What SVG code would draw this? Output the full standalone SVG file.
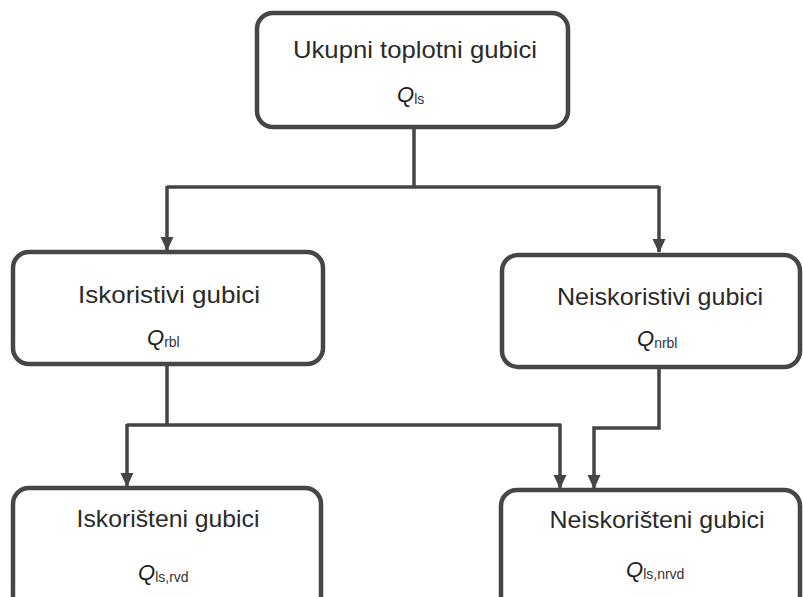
<svg xmlns="http://www.w3.org/2000/svg" width="803" height="597" viewBox="0 0 803 597">
<defs>
<marker id="arr" markerWidth="14" markerHeight="15" viewBox="0 0 15 14" refX="14" refY="7" orient="auto" markerUnits="userSpaceOnUse">
<path d="M0,0 L15,7 L0,14 Z" fill="#454545"/>
</marker>
<style>
.box{fill:#fff;stroke:#464646;stroke-width:4.5}
.t{font-family:"Liberation Sans",Arial,sans-serif;font-size:24px;fill:#2a2a2a;text-anchor:middle}
.q{font-family:"Liberation Sans",Arial,sans-serif;font-size:22px;font-style:italic;fill:#1e1e1e}
.s{font-size:14px;font-style:normal;fill:#333}
.c{fill:none;stroke:#454545;stroke-width:3.5}
.ca{fill:none;stroke:#454545;stroke-width:3.5;marker-end:url(#arr)}
</style>
</defs>
<rect width="803" height="597" fill="#fff"/>
<g id="connectors">
<path class="c" d="M414,128 V187 M167,187 H659"/>
<path class="ca" d="M167,186 V250"/>
<path class="ca" d="M659,186 V252"/>
<path class="c" d="M167,365 V425 M127,425 H561"/>
<path class="ca" d="M127,424 V486"/>
<path class="ca" d="M560,424 V488"/>
<path class="ca" d="M659,368 V428 H594 V488"/>
</g>
<g id="n1">
<rect class="box" x="257" y="13" width="311" height="114" rx="16"/>
<text class="t" x="415" y="58" textLength="244" lengthAdjust="spacingAndGlyphs">Ukupni toplotni gubici</text>
<text class="q" x="397" y="102">Q<tspan class="s" dy="2">ls</tspan></text>
</g>
<g id="n2">
<rect class="box" x="13" y="252" width="310" height="112" rx="16"/>
<text class="t" x="169" y="303" textLength="182" lengthAdjust="spacingAndGlyphs">Iskoristivi gubici</text>
<text class="q" x="147" y="345">Q<tspan class="s" dy="2">rbl</tspan></text>
</g>
<g id="n3">
<rect class="box" x="502" y="255" width="298" height="112" rx="16"/>
<text class="t" x="660" y="305" textLength="206" lengthAdjust="spacingAndGlyphs">Neiskoristivi gubici</text>
<text class="q" x="637" y="346">Q<tspan class="s" dy="2">nrbl</tspan></text>
</g>
<g id="n4">
<rect class="box" x="13" y="488" width="308" height="130" rx="16"/>
<text class="t" x="168" y="527" textLength="183" lengthAdjust="spacingAndGlyphs">Iskorišteni gubici</text>
<text class="q" x="138" y="580">Q<tspan class="s" dy="2">ls,rvd</tspan></text>
</g>
<g id="n5">
<rect class="box" x="501" y="490" width="299" height="130" rx="16"/>
<text class="t" x="657" y="528" textLength="215" lengthAdjust="spacingAndGlyphs">Neiskorišteni gubici</text>
<text class="q" x="626" y="577">Q<tspan class="s" dy="2">ls,nrvd</tspan></text>
</g>
</svg>
